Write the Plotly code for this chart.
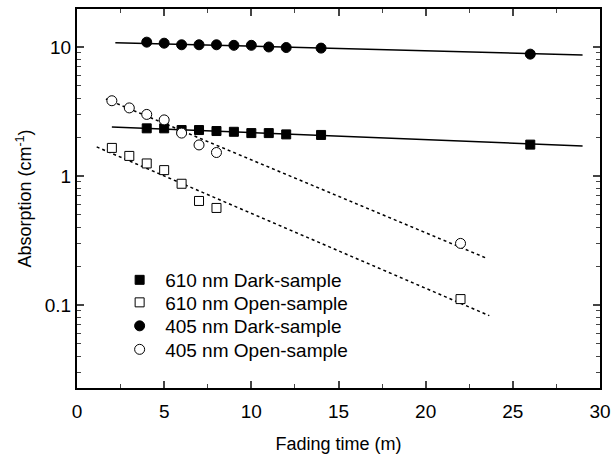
import plotly.graph_objects as go
import math

# Data
t_dark = [4, 5, 6, 7, 8, 9, 10, 11, 12, 14, 26]
a610_dark = [2.34, 2.34, 2.27, 2.27, 2.23, 2.2, 2.15, 2.15, 2.1, 2.08, 1.75]
a405_dark = [10.9, 10.7, 10.4, 10.4, 10.4, 10.3, 10.3, 10.0, 9.9, 9.8, 8.8]

t_open = [2, 3, 4, 5, 6, 7, 8, 22]
a610_open = [1.65, 1.43, 1.25, 1.11, 0.87, 0.64, 0.565, 0.111]
a405_open = [3.83, 3.37, 3.0, 2.72, 2.15, 1.74, 1.52, 0.30]

# Fit-line endpoints
fit610_dark_t = [2.0, 29.0]
fit610_dark_a = [2.4, 1.71]
fit405_dark_t = [2.2, 29.0]
fit405_dark_a = [10.8, 8.67]
fit610_open_t = [1.13, 23.65]
fit610_open_a = [1.68, 0.0826]
fit405_open_t = [1.66, 23.5]
fit405_open_a = [3.95, 0.23]

y_major = [0.1, 1, 10]
y_major_text = ["0.1", "1", "10"]
y_minor = [m * d for d in (0.01, 0.1, 1, 10) for m in range(2, 10)]

fig = go.Figure()

for tt, aa, dash in [(fit610_dark_t, fit610_dark_a, "solid"),
                     (fit405_dark_t, fit405_dark_a, "solid"),
                     (fit610_open_t, fit610_open_a, "dot"),
                     (fit405_open_t, fit405_open_a, "dot")]:
    fig.add_trace(go.Scatter(x=tt, y=aa, mode="lines", showlegend=False,
                             line=dict(color="black", width=1.5, dash=dash),
                             hoverinfo="skip"))

fig.add_trace(go.Scatter(x=t_dark, y=a610_dark, mode="markers", name="610 nm Dark-sample",
                         legend="legend",
                         marker=dict(symbol="square", size=9, color="black",
                                     line=dict(color="black", width=1))))
fig.add_trace(go.Scatter(x=t_open, y=a610_open, mode="markers", name="610 nm Open-sample",
                         legend="legend2",
                         marker=dict(symbol="square", size=9, color="white",
                                     line=dict(color="black", width=1))))
fig.add_trace(go.Scatter(x=t_dark, y=a405_dark, mode="markers", name="405 nm Dark-sample",
                         legend="legend3",
                         marker=dict(symbol="circle", size=10, color="black",
                                     line=dict(color="black", width=1))))
fig.add_trace(go.Scatter(x=t_open, y=a405_open, mode="markers", name="405 nm Open-sample",
                         legend="legend4",
                         marker=dict(symbol="circle", size=10, color="white",
                                     line=dict(color="black", width=1))))

font = "Liberation Sans, Arial, sans-serif"


def leg(yc):
    return dict(x=0.071, y=yc, xanchor="left", yanchor="middle",
                bgcolor="rgba(0,0,0,0)", font=dict(size=19), itemwidth=41)


fig.update_layout(
    width=612, height=459,
    margin=dict(l=77, r=12, t=9, b=71, autoexpand=False),
    paper_bgcolor="white", plot_bgcolor="white",
    font=dict(family=font, size=18, color="black"),
    showlegend=True,
    legend=leg(0.285), legend2=leg(0.2256), legend3=leg(0.1636), legend4=leg(0.1016),
    xaxis=dict(range=[0, 30], tickmode="linear", dtick=5, tick0=0,
               ticks="inside", ticklen=7, tickwidth=1.5, ticklabelstandoff=5,
               tickfont=dict(size=19),
               showline=True, linewidth=2, linecolor="black", mirror="ticks",
               showgrid=False, zeroline=False, automargin=False,
               minor=dict(tickmode="linear", dtick=2.5, tick0=0, ticks="inside",
                          ticklen=4, tickwidth=1.2, showgrid=False),
               title=dict(text="Fading time (m)", font=dict(size=18), standoff=17)),
    yaxis=dict(type="log", range=[math.log10(0.0227), math.log10(19.7)],
               tickmode="array", tickvals=y_major, ticktext=y_major_text,
               tickfont=dict(size=19),
               ticks="inside", ticklen=7, tickwidth=1.5,
               showline=True, linewidth=2, linecolor="black", mirror="ticks",
               showgrid=False, zeroline=False, automargin=False,
               minor=dict(tickmode="array", tickvals=y_minor, ticks="inside",
                          ticklen=4, tickwidth=1.2, showgrid=False),
               title=dict(text="Absorption (cm<sup>-1</sup>)", font=dict(size=18), standoff=8)),
)

fig.write_html("out.html", config={"displayModeBar": False},
               post_script="document.body.style.margin='0';")
